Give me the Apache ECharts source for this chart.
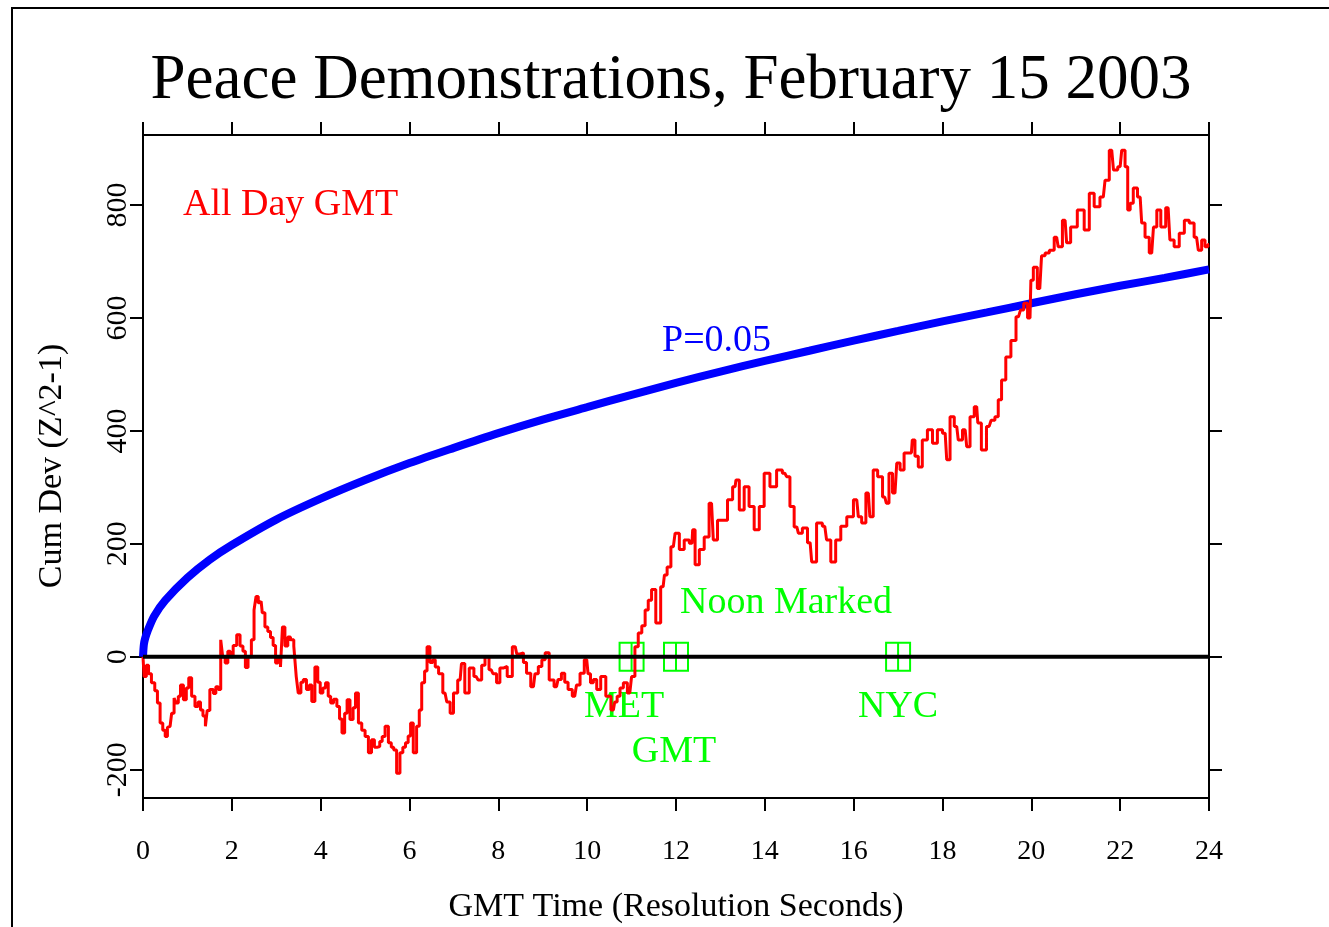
<!DOCTYPE html>
<html lang="en">
<head>
    <meta charset="UTF-8">
    <title>Peace Demonstrations</title>
    <style>
        html, body { margin: 0; padding: 0; background: #fff; }
        #chart { width: 1329px; height: 927px; }
    </style>
</head>
<body>
<div id="chart"></div>
<script src="https://cdn.jsdelivr.net/npm/echarts@6/dist/echarts.min.js"></script>
<script>
    // red trace: cumulative deviation
    var redHours = [
        0, 0.05, 0.1, 0.15, 0.23, 0.3, 0.35, 0.42, 0.47, 0.53, 0.57, 0.61, 0.68, 0.72, 0.77, 0.82, 0.87, 0.95, 1.0, 1.06,
        1.13, 1.21, 1.27, 1.32, 1.38, 1.43, 1.46, 1.55, 1.62, 1.66, 1.73, 1.77, 1.82, 1.88, 1.94, 1.99, 2.07, 2.15, 2.22, 2.28,
        2.33, 2.4, 2.48, 2.52, 2.57, 2.62, 2.66, 2.71, 2.78, 2.84, 2.9, 2.96, 3.01, 3.07, 3.12, 3.16, 3.23, 3.29, 3.35, 3.44,
        3.46, 3.53, 3.58, 3.64, 3.72, 3.77, 3.83, 3.91, 3.96, 4.02, 4.08, 4.14, 4.2, 4.25, 4.33, 4.4, 4.45, 4.51, 4.57, 4.62,
        4.7, 4.76, 4.81, 4.89, 4.96, 5.04, 5.11, 5.18, 5.24, 5.3, 5.36, 5.41, 5.49, 5.56, 5.62, 5.67, 5.75, 5.82, 5.88, 5.94,
        6.0, 6.05, 6.12, 6.2, 6.24, 6.31, 6.37, 6.42, 6.5, 6.55, 6.61, 6.7, 6.8, 6.88, 6.95, 7.03, 7.14, 7.2, 7.29, 7.4,
        7.5, 7.59, 7.66, 7.74, 7.84, 7.92, 8.0, 8.07, 8.15, 8.25, 8.38, 8.45, 8.53, 8.6, 8.67, 8.79, 8.86, 8.94, 9.02, 9.09,
        9.2, 9.31, 9.38, 9.46, 9.53, 9.61, 9.72, 9.8, 9.88, 9.99, 10.05, 10.1, 10.18, 10.25, 10.36, 10.48, 10.59, 10.65, 10.7, 10.78,
        10.85, 10.96, 11.04, 11.11, 11.19, 11.27, 11.34, 11.41, 11.49, 11.6, 11.71, 11.77, 11.83, 11.94, 12.02, 12.13, 12.24, 12.36, 12.39, 12.47,
        12.58, 12.69, 12.8, 12.88, 12.99, 13.1, 13.22, 13.33, 13.37, 13.48, 13.59, 13.7, 13.82, 13.93, 14.04, 14.19, 14.34, 14.45, 14.53, 14.6,
        14.72, 14.79, 14.9, 15.02, 15.09, 15.24, 15.35, 15.43, 15.54, 15.65, 15.77, 15.92,
        16.07, 16.14, 16.22, 16.33, 16.4, 16.48, 16.6, 16.7, 16.77, 16.82, 16.93, 17.01, 17.08, 17.19, 17.3, 17.34, 17.42, 17.49, 17.6, 17.72,
        17.83, 17.94, 18.06, 18.13, 18.21, 18.32, 18.39, 18.51, 18.58, 18.66, 18.77, 18.82, 18.93, 19.05, 19.14, 19.22, 19.29, 19.37, 19.48, 19.6,
        19.71, 19.8, 19.86, 19.97, 20.01, 20.08, 20.19, 20.27, 20.35, 20.46, 20.57, 20.64, 20.76, 20.83, 20.94, 21.13, 21.25, 21.36, 21.47, 21.62,
        21.7, 21.81, 21.89, 22.0, 22.07, 22.15, 22.19, 22.26, 22.33, 22.45, 22.52, 22.6, 22.71, 22.79, 22.86, 22.97, 23.08, 23.16, 23.27, 23.39,
        23.5, 23.61, 23.72, 23.8, 23.87, 23.95, 24.0
    ];
    var redCumDev = [
        0, -35, -15, -30, -46, -60, -82, -117, -130, -141, -125, -123, -100, -73, -82, -70, -50, -76, -55, -37,
        -70, -88, -80, -94, -105, -123, -95, -58, -65, -53, -58, 30, 0, -11, 10, 0, 20, 39, 19, 10,
        -19, 0, 30, 83, 107, 95, 98, 78, 53, 45, 34, 20, -11, 0, -18, 53, 19, 35, 30, 19,
        -35, -64, -45, -40, -58, -50, -79, -18, -45, -64, -55, -46, -70, -82, -75, -88, -110, -135, -100, -76,
        -111, -90, -64, -117, -130, -141, -170, -147, -160, -159, -150, -141, -123, -152, -160, -165, -206, -170, -160, -152,
        -140, -117, -170, -123, -94, -46, -25, 18, -10, -5, -18, -30, -64, -80, -100, -64, -41, -12, -64, -20,
        -35, -41, -15, 0, -23, -30, -46, -20, -17, -35, 18, 5, 7, -10, -29, -53, -30, -17, -5, 7,
        -41, -53, -40, -29, -45, -58, -70, -50, -29, -5, -30, -46, -40, -58, -35, -70, -94, -80, -70, -55,
        -46, -64, -35, 18, 42, 55, 83, 100, 119, 60, 124, 145, 159, 195, 219, 190, 207, 201, 225, 163,
        190, 212, 272, 207, 242, 242, 278, 301, 313, 260, 301, 266, 225, 266, 325, 301, 331, 325, 319, 266,
        230, 219, 228, 202, 168, 237, 231, 207, 168, 207, 231, 248,
        278, 248, 237, 290, 248, 331, 319, 283, 272, 325, 290, 343, 331, 361, 361, 384, 355, 336, 384, 402,
        378, 402, 396, 349, 425, 408, 384, 402, 372, 425, 443, 414, 366, 408, 419, 425, 455, 490, 531, 560,
        602, 614, 626, 600, 667, 690, 652, 710, 715, 720, 743, 726, 773, 733, 761, 791, 756, 821, 797, 814,
        844, 897, 862, 868, 897, 868, 791, 803, 830, 814, 768, 743, 715, 761, 791, 761, 795, 738, 726, 750,
        773, 768, 743, 720, 738, 726, 730
    ];

    // blue P=0.05 envelope
    var envHours = [0, 0.02, 0.05, 0.1, 0.25, 0.5, 1, 1.5, 2, 3, 4, 5, 6, 7, 8, 9, 10, 11, 12, 13, 14, 15, 16, 17, 18, 19, 20, 21, 22, 23, 24];
    var envValues = [0, 22, 33, 45, 72, 100, 140, 172, 198, 243, 280, 313, 343, 370, 396, 420, 442, 464, 485, 505, 524, 542, 560, 577, 594, 610, 626, 642, 657, 671, 686];

    // noon markers (GMT hour)
    var noonHours = [11, 12, 17];
    var noonNames = ['MET', 'GMT', 'NYC'];

    var yTicks = [-200, 0, 200, 400, 600, 800];
    var zeroLine = [[0, 0], [24, 0]];

    var serif = '"Liberation Serif", "Times New Roman", serif';

    var redData = redHours.map(function (h, i) { return [h, redCumDev[i]]; });
    var envData = envHours.map(function (h, i) { return [h, envValues[i]]; });
    var noonData = noonHours.map(function (h) { return [h, 0]; });

    var chart = echarts.init(document.getElementById('chart'));

    var axisLine = {show: true, onZero: false, lineStyle: {color: '#000', width: 2}};
    var axisTick = {show: true, length: 13, lineStyle: {color: '#000', width: 2}};

    var option = {
        backgroundColor: '#fff',
        animation: false,
        grid: {left: 143, right: 120, top: 135, bottom: 129, outerBoundsMode: 'none'},
        xAxis: [
            {
                type: 'value', position: 'bottom', min: 0, max: 24, interval: 2,
                axisLine: axisLine, axisTick: axisTick, splitLine: {show: false},
                axisLabel: {margin: 40, color: '#000', fontFamily: serif, fontSize: 28}
            },
            {
                type: 'value', position: 'top', min: 0, max: 24, interval: 2,
                axisLine: axisLine, axisTick: axisTick, splitLine: {show: false},
                axisLabel: {show: false}
            }
        ],
        yAxis: [
            {
                type: 'value', position: 'left', min: -250, max: 924,
                axisLine: axisLine,
                axisTick: {show: true, length: 13, lineStyle: {color: '#000', width: 2}, customValues: yTicks},
                splitLine: {show: false},
                axisLabel: {rotate: 90, margin: 10, color: '#000', fontFamily: serif, fontSize: 30, customValues: yTicks}
            },
            {
                type: 'value', position: 'right', min: -250, max: 924,
                axisLine: axisLine,
                axisTick: {show: true, length: 13, lineStyle: {color: '#000', width: 2}, customValues: yTicks},
                splitLine: {show: false},
                axisLabel: {show: false}
            }
        ],
        series: [
            {
                name: 'noon',
                type: 'custom',
                z: 1,
                data: noonData,
                renderItem: function (params, api) {
                    var p = api.coord([api.value(0), api.value(1)]);
                    var w = 24, h = 28;
                    var st = {stroke: '#00ff00', fill: null, lineWidth: 2};
                    return {
                        type: 'group',
                        children: [
                            {type: 'rect', shape: {x: p[0] - w / 2, y: p[1] - h / 2, width: w, height: h}, style: st},
                            {type: 'line', shape: {x1: p[0], y1: p[1] - h / 2, x2: p[0], y2: p[1] + h / 2}, style: st},
                            {type: 'line', shape: {x1: p[0] - w / 2, y1: p[1], x2: p[0] + w / 2, y2: p[1]}, style: st}
                        ]
                    };
                }
            },
            {
                name: 'P=0.05',
                type: 'line',
                z: 2,
                data: envData,
                smooth: 0.3,
                showSymbol: false,
                lineStyle: {color: '#0000ff', width: 8}
            },
            {
                name: 'All Day GMT',
                type: 'line',
                z: 3,
                data: redData,
                step: 'middle',
                showSymbol: false,
                lineStyle: {color: '#ff0000', width: 3}
            },
            {
                name: 'zero',
                type: 'line',
                z: 4,
                data: zeroLine,
                showSymbol: false,
                lineStyle: {color: '#000', width: 4}
            }
        ],
        graphic: [
            {type: 'rect', shape: {x: 12, y: 8, width: 1500, height: 1000},
             style: {fill: null, stroke: '#000', lineWidth: 2}, silent: true},
            {type: 'text', x: 671, y: 81,
             style: {text: 'Peace Demonstrations, February 15 2003', font: '63px ' + serif, fill: '#000',
                     textAlign: 'center', textVerticalAlign: 'middle', align: 'center', verticalAlign: 'middle'}},
            {type: 'text', x: 183, y: 205,
             style: {text: 'All Day GMT', font: '38px ' + serif, fill: '#ff0000',
                     textAlign: 'left', textVerticalAlign: 'middle', align: 'left', verticalAlign: 'middle'}},
            {type: 'text', x: 662, y: 341,
             style: {text: 'P=0.05', font: '38px ' + serif, fill: '#0000ff',
                     textAlign: 'left', textVerticalAlign: 'middle', align: 'left', verticalAlign: 'middle'}},
            {type: 'text', x: 680, y: 603,
             style: {text: 'Noon Marked', font: '38px ' + serif, fill: '#00ff00',
                     textAlign: 'left', textVerticalAlign: 'middle', align: 'left', verticalAlign: 'middle'}},
            {type: 'text', x: 624, y: 707,
             style: {text: noonNames[0], font: '38px ' + serif, fill: '#00ff00',
                     textAlign: 'center', textVerticalAlign: 'middle', align: 'center', verticalAlign: 'middle'}},
            {type: 'text', x: 674, y: 752,
             style: {text: noonNames[1], font: '38px ' + serif, fill: '#00ff00',
                     textAlign: 'center', textVerticalAlign: 'middle', align: 'center', verticalAlign: 'middle'}},
            {type: 'text', x: 898, y: 707,
             style: {text: noonNames[2], font: '38px ' + serif, fill: '#00ff00',
                     textAlign: 'center', textVerticalAlign: 'middle', align: 'center', verticalAlign: 'middle'}},
            {type: 'text', x: 676, y: 907,
             style: {text: 'GMT Time (Resolution Seconds)', font: '34px ' + serif, fill: '#000',
                     textAlign: 'center', textVerticalAlign: 'middle', align: 'center', verticalAlign: 'middle'}},
            {type: 'text', x: 52, y: 466, rotation: Math.PI / 2,
             style: {text: 'Cum Dev (Z^2-1)', font: '34px ' + serif, fill: '#000',
                     textAlign: 'center', textVerticalAlign: 'middle', align: 'center', verticalAlign: 'middle'}}
        ]
    };

    chart.setOption(option);
</script>
</body>
</html>
